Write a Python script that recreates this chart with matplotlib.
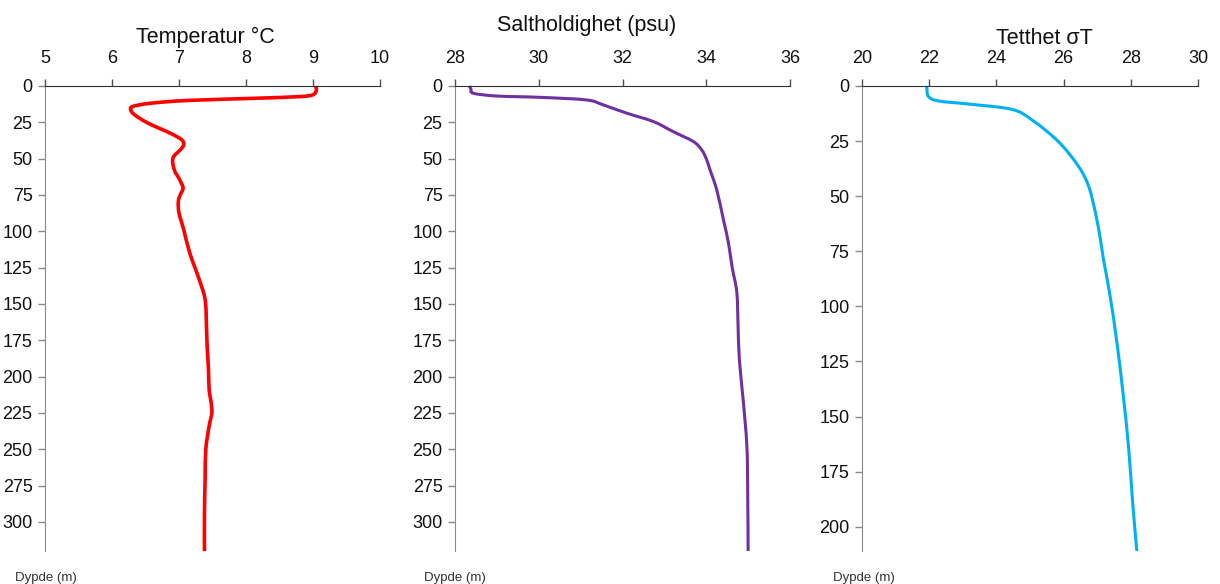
import numpy as np
import matplotlib.pyplot as plt
from matplotlib.path import Path
from matplotlib.patches import PathPatch

plt.rcParams['font.family'] = ['Liberation Sans', 'DejaVu Sans']

# temperature profile
depth_t = [0, 3, 6, 7.3, 8.5, 10, 11.9, 14.1, 16.5, 19.9, 25.6, 32.5, 37, 40.5,
           43.9, 49.6, 57.7, 64.5, 70.2, 74.8, 79.4, 87.4, 98.8, 114.8, 133,
           147, 165, 179, 195, 209, 218, 225, 234, 250, 270, 295, 320]
temp = [9.04, 9.05, 9.0, 8.8, 8.1, 7.11, 6.57, 6.31, 6.28, 6.34, 6.54, 6.87, 7.04, 7.07,
        7.02, 6.91, 6.93, 7.01, 7.06, 7.02, 6.99, 7.0, 7.07, 7.16, 7.30,
        7.39, 7.41, 7.42, 7.44, 7.45, 7.48, 7.49, 7.45, 7.40, 7.39, 7.38, 7.38]

# salinity profile
depth_s = [0, 2, 5, 6.9, 7.8, 9.6, 13, 18.7, 24.5, 31.4, 38.2, 43.9, 50, 57.7,
           71.4, 92, 108, 125, 142, 165, 188, 215.5, 247.6, 280, 320]
sal = [28.34, 28.38, 28.44, 29.0, 30.03, 31.14, 31.54, 32.1, 32.74, 33.21, 33.69, 33.89, 34.0, 34.09,
       34.25, 34.41, 34.53, 34.62, 34.73, 34.76, 34.79, 34.88, 34.97, 34.99, 35.0]

# density profile
depth_d = [0, 1, 4.8, 6.8, 8.2, 10.6, 15.4, 25.3, 36.6, 45.7, 57.7, 70, 79, 94,
           116.7, 142.4, 165, 190, 211]
dens = [21.92, 21.93, 21.98, 22.28, 23.18, 24.46, 25.06, 25.85, 26.45, 26.75, 26.95, 27.1, 27.19, 27.37,
        27.59, 27.79, 27.94, 28.06, 28.18]


def smooth_path(xs, ys):
    # Catmull-Rom style bezier through the measured points
    p = np.column_stack([xs, ys]).astype(float)
    verts = [p[0]]
    codes = [Path.MOVETO]
    n = len(p)
    for i in range(n - 1):
        p0 = p[i - 1] if i > 0 else p[i]
        p1, p2 = p[i], p[i + 1]
        p3 = p[i + 2] if i + 2 < n else p[i + 1]
        verts += [p1 + (p2 - p0) / 6, p2 - (p3 - p1) / 6, p2]
        codes += [Path.CURVE4] * 3
    return Path(verts, codes)


fig = plt.figure(figsize=(12.2, 5.84), dpi=100)

panels = [
    (45, 380, (5, 10), 1, 320, temp, depth_t, '#ff0000', 2.6,
     'Temperatur °C', (205.5, 43.5), 15),
    (455, 790, (28, 36), 2, 320, sal, depth_s, '#7030a0', 2.2,
     'Saltholdighet (psu)', (587, 31.5), 424),
    (862, 1198, (20, 30), 2, 211, dens, depth_d, '#00b0f0', 2.2,
     'Tetthet σT', (1044, 43.5), 833),
]

W, H = 1220, 584
top, bottom = 86, 551

for (l, r, xr, step, ymax, xs, ys, col, lw, title, tpos, dx) in panels:
    ax = fig.add_axes([l / W, 1 - bottom / H, (r - l) / W, (bottom - top) / H])
    ax.add_patch(PathPatch(smooth_path(xs, ys), fill=False, edgecolor=col, lw=lw,
                           capstyle='butt', clip_on=False))
    ax.set_xlim(*xr)
    ax.set_ylim(ymax, 0)
    ax.set_xticks(range(xr[0], xr[1] + 1, step))
    ax.set_yticks(range(0, int(ymax) // 25 * 25 + 1, 25))
    ax.xaxis.tick_top()
    ax.spines['right'].set_visible(False)
    ax.spines['bottom'].set_visible(False)
    ax.spines['top'].set_color('#303030')
    ax.spines['left'].set_color('#8a8a8a')
    ax.tick_params(axis='x', direction='out', length=5, width=1, color='#505050',
                   pad=9, labelsize=13, labelcolor='#111111')
    ax.tick_params(axis='y', direction='out', length=5, width=1, color='#8a8a8a',
                   pad=4, labelsize=13, labelcolor='#111111')
    fig.text(tpos[0] / W, 1 - tpos[1] / H, title, ha='center', va='baseline',
             fontsize=15.5, color='#111111')
    fig.text(dx / W, 1 - 581 / H, 'Dypde (m)', ha='left', va='baseline',
             fontsize=9.5, color='#333333')

fig.savefig('out.png', dpi=100)
